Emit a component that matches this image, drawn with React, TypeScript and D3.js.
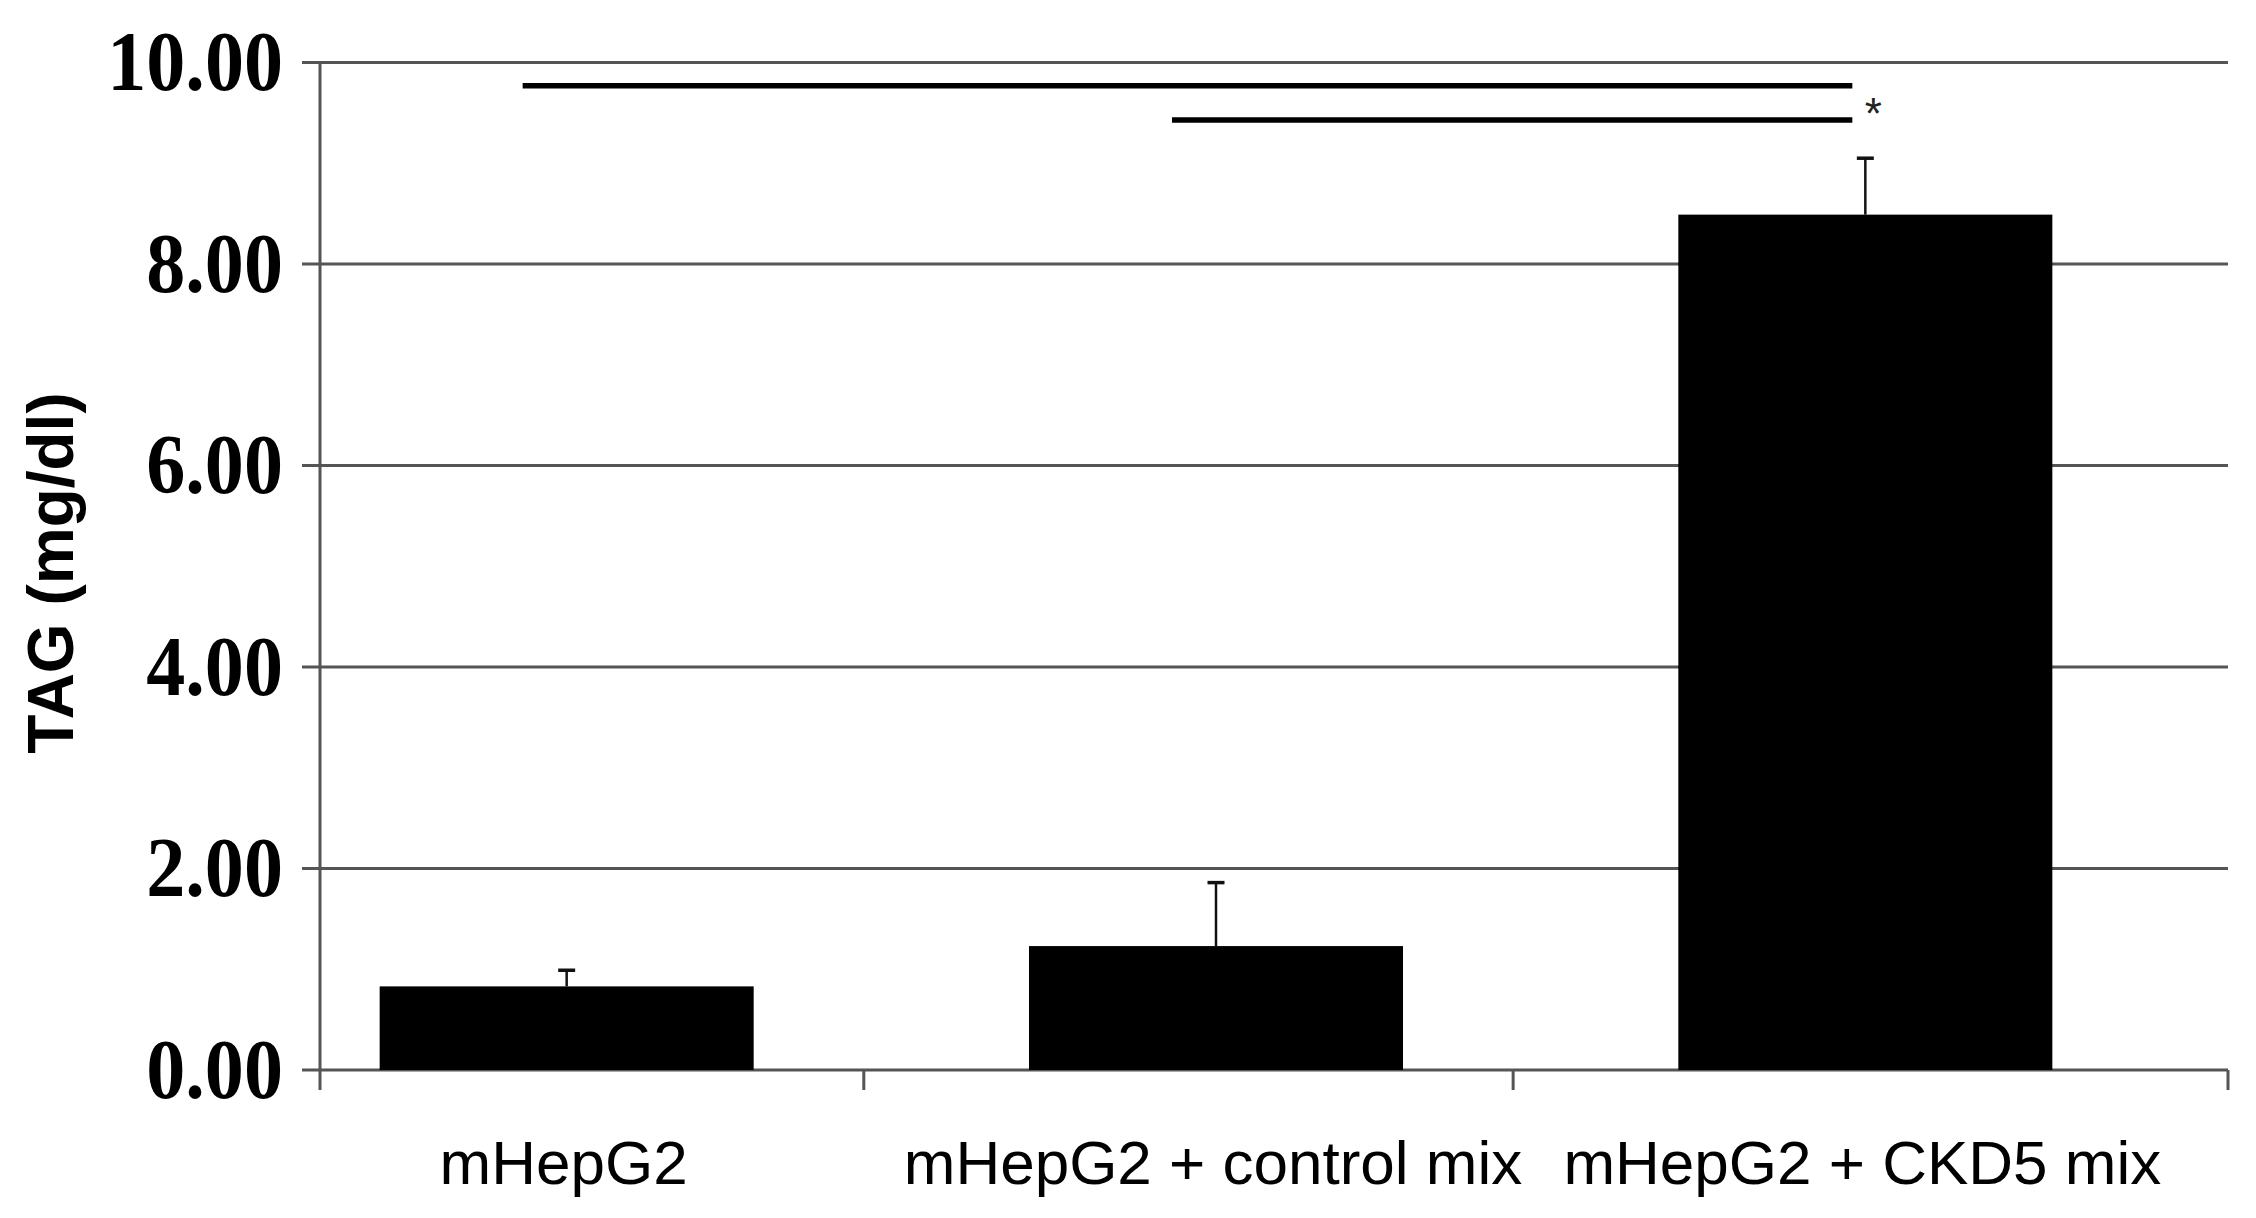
import React from "react";
import * as d3 from "d3";

const categories = ["mHepG2", "mHepG2 + control mix", "mHepG2 + CKD5 mix"];
const means = [0.83, 1.23, 8.49];
const errors = [0.16, 0.63, 0.56];
const yTicks = [0, 2, 4, 6, 8, 10];
const yTickLabels = ["0.00", "2.00", "4.00", "6.00", "8.00", "10.00"];
const comparisonFrom = [0, 1];
const comparisonTo = [2, 2];
const comparisonLevel = [9.77, 9.43];
const significanceMark = "*";
const yTitle = "TAG (mg/dl)";

const W = 2256;
const H = 1218;
const axisX = 320;
const plotRight = 2228;

export default function App() {
  const y = d3.scaleLinear().domain([0, 10]).range([1070, 62.5]);
  const x = d3
    .scaleBand<string>()
    .domain(categories)
    .range([242, 2190])
    .paddingInner(0.424)
    .paddingOuter(0.212);
  const bw = x.bandwidth();
  const step = x.step();
  const cx = (i: number) => (x(categories[i]) as number) + bw / 2;
  const separators = categories
    .slice(0, -1)
    .map((c) => (x(c) as number) + bw + (step - bw) * 0.4);

  const gridColor = "#555";
  const serif = "'Liberation Serif', 'Times New Roman', serif";
  const sans = "'Liberation Sans', Arial, sans-serif";

  return (
    <svg
      width={W}
      height={H}
      style={{ position: "absolute", left: 0, top: 0, background: "#fff" }}
    >
      <rect x={0} y={0} width={W} height={H} fill="#fff" />
      {yTicks.map((t) => (
        <line
          key={"g" + t}
          x1={302}
          x2={plotRight}
          y1={y(t)}
          y2={y(t)}
          stroke={gridColor}
          strokeWidth={3}
        />
      ))}
      <line x1={axisX} x2={axisX} y1={y(10)} y2={1090} stroke={gridColor} strokeWidth={3} />
      {separators.map((s, i) => (
        <line key={"s" + i} x1={s} x2={s} y1={y(0)} y2={1090} stroke={gridColor} strokeWidth={3} />
      ))}
      <line x1={plotRight} x2={plotRight} y1={y(0)} y2={1090} stroke={gridColor} strokeWidth={3} />
      {yTicks.map((t, i) => (
        <g key={"l" + t} transform={`translate(283,${y(t)}) scale(0.93,1)`}>
          <text
            x={0}
            y={0}
            dy="0.33em"
            textAnchor="end"
            fontFamily={serif}
            fontWeight="bold"
            fontSize={84}
            fill="#000"
          >
            {yTickLabels[i]}
          </text>
        </g>
      ))}
      <text
        transform={`translate(73,573) rotate(-90)`}
        textAnchor="middle"
        fontFamily={sans}
        fontWeight="bold"
        fontSize={64}
        fill="#000"
      >
        {yTitle}
      </text>
      {categories.map((c, i) => (
        <rect
          key={"b" + c}
          x={x(c)}
          y={y(means[i])}
          width={bw}
          height={y(0) - y(means[i])}
          fill="#000"
        />
      ))}
      {categories.map((c, i) => (
        <g key={"e" + c}>
          <line
            x1={cx(i)}
            x2={cx(i)}
            y1={y(means[i])}
            y2={y(means[i] + errors[i])}
            stroke="#111"
            strokeWidth={2.5}
          />
          <line
            x1={cx(i) - 8.5}
            x2={cx(i) + 8.5}
            y1={y(means[i] + errors[i])}
            y2={y(means[i] + errors[i])}
            stroke="#111"
            strokeWidth={3.5}
          />
        </g>
      ))}
      {comparisonLevel.map((lv, k) => (
        <line
          key={"c" + k}
          x1={cx(comparisonFrom[k]) - 44}
          x2={cx(comparisonTo[k]) - 13}
          y1={y(lv)}
          y2={y(lv)}
          stroke="#000"
          strokeWidth={5.5}
        />
      ))}
      <text
        x={cx(2) + 8}
        y={y((comparisonLevel[0] + comparisonLevel[1]) / 2) + 26}
        textAnchor="middle"
        fontFamily={sans}
        fontSize={44}
        fill="#222"
      >
        {significanceMark}
      </text>
      {categories.map((c) => (
        <text
          key={"t" + c}
          x={(x(c) as number) + bw / 2 - 3}
          y={1184}
          textAnchor="middle"
          fontFamily={sans}
          fontSize={62}
          fill="#000"
        >
          {c}
        </text>
      ))}
    </svg>
  );
}
